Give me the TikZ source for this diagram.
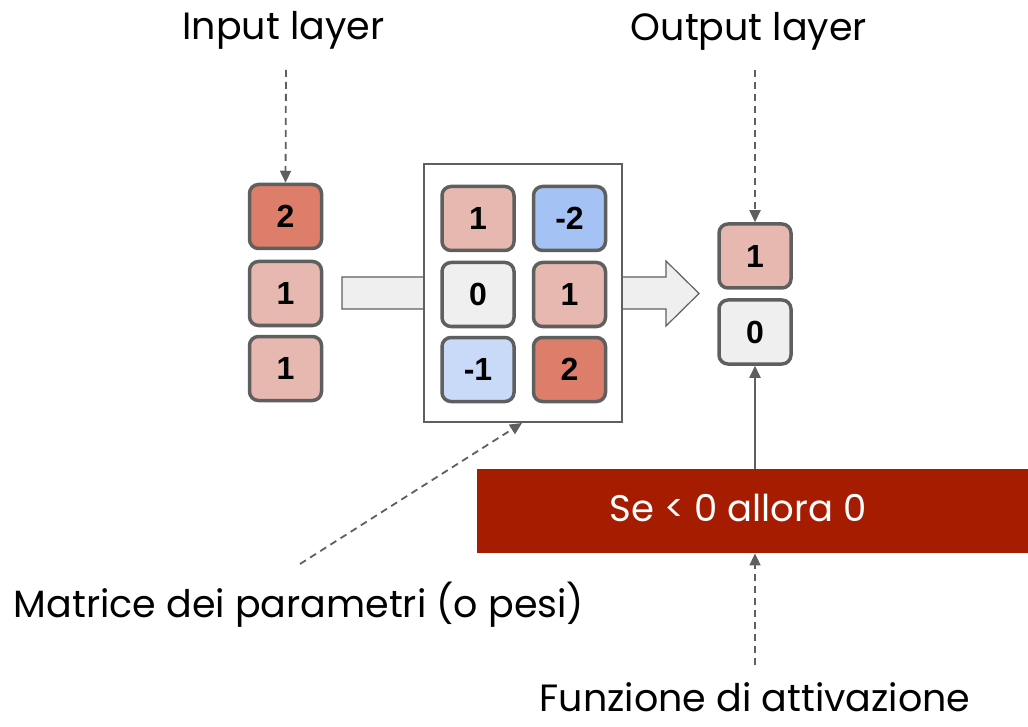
\documentclass[tikz,border=0pt]{standalone}
\usepackage{fontspec}
\setmainfont{Poppins}
\newfontfamily\cellfont{Liberation Sans}
\usetikzlibrary{arrows.meta}
\definecolor{edgegray}{HTML}{5F5F5F}
\definecolor{darksalmon}{HTML}{DD7E6B}
\definecolor{lightsalmon}{HTML}{E6B8AF}
\definecolor{midblue}{HTML}{A4C2F4}
\definecolor{paleblue}{HTML}{C9DAF8}
\definecolor{palegray}{HTML}{EFEFEF}
\definecolor{brickred}{HTML}{A61C00}
\tikzset{
  cell/.style={draw=edgegray, line width=3.5pt, rounded corners=9pt,
    minimum width=72pt, minimum height=64pt, inner sep=0pt,
    font=\cellfont\bfseries\fontsize{32}{32}\selectfont},
  caption/.style={font=\fontsize{38}{44}\selectfont, inner sep=0pt, anchor=base},
  pointer/.style={draw=edgegray, line width=1.8pt, dash pattern=on 7pt off 5pt,
    -{Triangle[length=12pt,width=11pt]}},
  feed/.style={draw=edgegray, line width=1.8pt, -{Triangle[length=12pt,width=11pt]}}
}
\begin{document}
\begin{tikzpicture}[x=1pt,y=-1pt]
\useasboundingbox (0,0) rectangle (1028,727);

% flow arrow passing behind the weight matrix
\draw[edgegray, fill=palegray, line width=1.2pt]
  (342,277) -- (666,277) -- (666,261) -- (699,293.5) -- (666,326) -- (666,309) -- (342,309) -- cycle;

% weight matrix frame
\node[draw=edgegray, fill=white, line width=1.2pt, minimum width=198pt, minimum height=258pt, inner sep=0pt]
  (matrix) at (523,293) {};

% input layer
\node[cell, fill=darksalmon]  (in1) at (285.5,216.5) {2};
\node[cell, fill=lightsalmon] (in2) at (285.5,293.5) {1};
\node[cell, fill=lightsalmon] (in3) at (285.5,368.5) {1};

% weights
\node[cell, fill=lightsalmon] (w11) at (478,218.5) {1};
\node[cell, fill=midblue]     (w12) at (569.5,218.5) {-2};
\node[cell, fill=palegray]    (w21) at (478,294.5) {0};
\node[cell, fill=lightsalmon] (w22) at (569.5,294.5) {1};
\node[cell, fill=paleblue]    (w31) at (478,369.5) {-1};
\node[cell, fill=darksalmon]  (w32) at (569.5,369.5) {2};

% output layer
\node[cell, fill=lightsalmon] (out1) at (755,256) {1};
\node[cell, fill=palegray]    (out2) at (755,332) {0};

% activation function
\node[fill=brickred, minimum width=551pt, minimum height=84pt, inner sep=0pt,
  anchor=north west] (act) at (477,469) {};
\node[text=white, font=\fontsize{37}{42}\selectfont, inner sep=0pt, anchor=base]
  (acttext) at (738,521) {Se < 0 allora 0};

% captions
\node[caption] (lin) at (283.5,40) {Input layer};
\node[caption] (lout) at (749,41) {Output layer};
\node[caption] (lmat) at (299,617) {Matrice dei parametri (o pesi)};
\node[caption, text depth=0pt] (lact) at (755,711) {Funzione di attivazione};

% pointers
\coordinate (pin) at (286,70);
\coordinate (pout) at (755,70);
\coordinate (pmat) at (300,564);
\coordinate (pact) at (755,665);
\draw[pointer] (pin) -- (in1.north);
\draw[pointer] (pout) -- (out1.north);
\draw[pointer] (pmat) -- (522,423);
\draw[pointer] (pact) -- (act.south -| pact);
\draw[feed] (act.north -| out2) -- (out2.south);
\end{tikzpicture}
\end{document}
